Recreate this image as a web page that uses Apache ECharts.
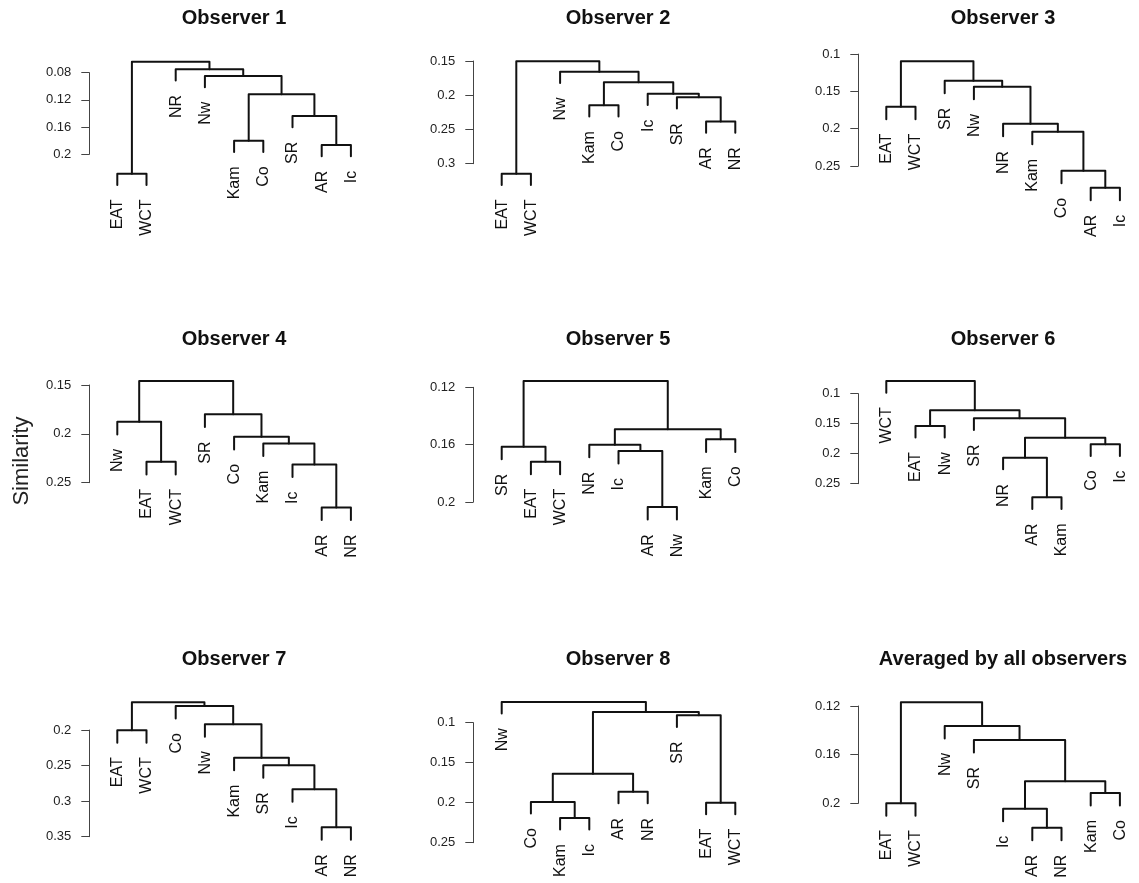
<!DOCTYPE html>
<html><head><meta charset="utf-8">
<script src="https://cdn.jsdelivr.net/npm/echarts@6/dist/echarts.min.js"></script>
<style>html,body{margin:0;padding:0;background:#fff}#c{width:1139px;height:883px}</style>
</head><body><div id="c"></div>
<script>
// ---------- DATA ----------
const titles = ['Observer 1','Observer 2','Observer 3','Observer 4','Observer 5','Observer 6','Observer 7','Observer 8','Averaged by all observers'];
const yName = 'Similarity';

// leaf order (left to right) and merges [childA, childB, height]; numeric child = index of earlier merge
const order1 = ['EAT','WCT','NR','Nw','Kam','Co','SR','AR','Ic'];
const merges1 = [['EAT','WCT',0.2285],['Kam','Co',0.18],['AR','Ic',0.1863],['SR',2,0.1437],[1,3,0.1118],['Nw',4,0.0849],['NR',5,0.075],[0,6,0.0638]];
const ticks1 = [0.08,0.12,0.16,0.2];

const order2 = ['EAT','WCT','Nw','Kam','Co','Ic','SR','AR','NR'];
const merges2 = [['EAT','WCT',0.3148],['Kam','Co',0.2148],['AR','NR',0.2382],['SR',2,0.2031],['Ic',3,0.1978],[1,4,0.1812],['Nw',5,0.1656],[0,6,0.1505]];
const ticks2 = [0.15,0.2,0.25,0.3];

const order3 = ['EAT','WCT','SR','Nw','NR','Kam','Co','AR','Ic'];
const merges3 = [['EAT','WCT',0.1705],['AR','Ic',0.279],['Co',1,0.2562],['Kam',2,0.204],['NR',3,0.1933],['Nw',4,0.1437],['SR',5,0.1356],[0,6,0.1096]];
const ticks3 = [0.1,0.15,0.2,0.25];

const order4 = ['Nw','EAT','WCT','SR','Co','Kam','Ic','AR','NR'];
const merges4 = [['EAT','WCT',0.2286],['Nw',0,0.1876],['AR','NR',0.2753],['Ic',2,0.2313],['Kam',3,0.2098],['Co',4,0.203],['SR',5,0.18],[1,6,0.1459]];
const ticks4 = [0.15,0.2,0.25];

const order5 = ['SR','EAT','WCT','NR','Ic','AR','Nw','Kam','Co'];
const merges5 = [['EAT','WCT',0.1719],['SR',0,0.1614],['AR','Nw',0.2035],['Ic',2,0.1644],['NR',3,0.16],['Kam','Co',0.1563],[4,5,0.1493],[1,6,0.1156]];
const ticks5 = [0.12,0.16,0.2];

const order6 = ['WCT','EAT','Nw','SR','NR','AR','Kam','Co','Ic'];
const merges6 = [['EAT','Nw',0.1538],['AR','Kam',0.2727],['NR',1,0.2067],['Co','Ic',0.1843],[2,3,0.1733],['SR',4,0.141],[0,5,0.1277],['WCT',6,0.0789]];
const ticks6 = [0.1,0.15,0.2,0.25];

const order7 = ['EAT','WCT','Co','Nw','Kam','SR','Ic','AR','NR'];
const merges7 = [['EAT','WCT',0.2004],['AR','NR',0.3367],['Ic',1,0.2833],['SR',2,0.2496],['Kam',3,0.2389],['Nw',4,0.192],['Co',5,0.1663],[0,6,0.1611]];
const ticks7 = [0.2,0.25,0.3,0.35];

const order8 = ['Nw','Co','Kam','Ic','AR','NR','SR','EAT','WCT'];
const merges8 = [['Kam','Ic',0.2191],['Co',0,0.1991],['AR','NR',0.1863],[1,2,0.1638],['EAT','WCT',0.2],['SR',4,0.0908],[3,5,0.0866],['Nw',6,0.0741]];
const ticks8 = [0.1,0.15,0.2,0.25];

const order9 = ['EAT','WCT','Nw','SR','Ic','AR','NR','Kam','Co'];
const merges9 = [['EAT','WCT',0.2],['AR','NR',0.22],['Ic',1,0.2044],['Kam','Co',0.1915],[2,3,0.1819],['SR',4,0.1479],['Nw',5,0.1364],[0,6,0.117]];
const ticks9 = [0.12,0.16,0.2];

const orders = [order1,order2,order3,order4,order5,order6,order7,order8,order9];
const mergesAll = [merges1,merges2,merges3,merges4,merges5,merges6,merges7,merges8,merges9];
const ticksAll = [ticks1,ticks2,ticks3,ticks4,ticks5,ticks6,ticks7,ticks8,ticks9];

// ---------- LAYOUT ----------
const FONT = "'Liberation Sans', Arial, sans-serif";
const cols = [{axisX:89.3, leaf1X:117.3, titleX:234},{axisX:473.3, leaf1X:501.7, titleX:618},{axisX:858.3, leaf1X:886.3, titleX:1003}];
const rowTitleY = [18.3, 339, 659];
const panelY = [[72.7,154.3],[61,163.7],[54.1,166],[385,482.7],[387.3,502],[393.7,483.7],[730,836.7],[722.7,842.7],[706,803.3]];
const SP = 29.2;

function layoutTree(order, merges) {
  const hs = merges.map(m => m[2]);
  const hang = 0.1 * (Math.max(...hs) - Math.min(...hs));
  const nodes = [], segs = [], leaves = [];
  const child = (ref, h) => {
    if (typeof ref === 'number') return nodes[ref];
    const x = order.indexOf(ref) + 1, y = h + hang;
    leaves.push([x, y, ref]);
    return {x, y};
  };
  merges.forEach(([a, b, h]) => {
    const A = child(a, h), B = child(b, h);
    nodes.push({x: (A.x + B.x) / 2, y: h});
    segs.push([A.x, B.x, A.y, B.y, h]);
  });
  return {segs, leaves};
}

const grid = [], xAxis = [], yAxis = [], series = [], graphic = [];
for (let i = 0; i < 9; i++) {
  const c = cols[i % 3], r = Math.floor(i / 3);
  const t = ticksAll[i];
  const xMin = 1 - (c.leaf1X - c.axisX) / SP, xMax = 10;
  grid.push({left: c.axisX, top: panelY[i][0], width: (xMax - xMin) * SP, height: panelY[i][1] - panelY[i][0], outerBoundsMode: 'none'});
  xAxis.push({type: 'value', gridIndex: i, min: xMin, max: xMax, show: false});
  yAxis.push({
    type: 'value', gridIndex: i, inverse: true,
    min: t[0], max: t[t.length - 1], interval: +(t[1] - t[0]).toFixed(4),
    axisLine: {show: true, lineStyle: {color: '#444', width: 1}},
    axisTick: {show: true, length: 8, lineStyle: {color: '#444'}},
    axisLabel: {fontSize: 13, color: '#222', margin: 18, fontFamily: FONT, formatter: v => String(+v.toFixed(4))},
    splitLine: {show: false}
  });
  const {segs, leaves} = layoutTree(orders[i], mergesAll[i]);
  series.push({
    type: 'custom', xAxisIndex: i, yAxisIndex: i, clip: false, silent: true, animation: false,
    data: segs,
    renderItem: (params, api) => {
      const p1 = api.coord([api.value(0), api.value(2)]);
      const q1 = api.coord([api.value(0), api.value(4)]);
      const q2 = api.coord([api.value(1), api.value(4)]);
      const p2 = api.coord([api.value(1), api.value(3)]);
      return {type: 'polyline', shape: {points: [p1, q1, q2, p2]},
        style: {stroke: '#111', lineWidth: 2, fill: null, lineJoin: 'round', lineCap: 'round'}};
    }
  });
  series.push({
    type: 'custom', xAxisIndex: i, yAxisIndex: i, clip: false, silent: true, animation: false,
    data: leaves.map(l => [l[0], l[1]]),
    renderItem: (params, api) => {
      const p = api.coord([api.value(0), api.value(1)]);
      return {type: 'text', x: p[0] + 0.5, y: p[1] + 14.5, rotation: Math.PI / 2,
        style: {text: leaves[params.dataIndex][2], align: 'right', verticalAlign: 'middle',
          fontSize: 16, fontFamily: FONT, fill: '#111'}};
    }
  });
  graphic.push({type: 'text', x: c.titleX, y: rowTitleY[r],
    style: {text: titles[i], align: 'center', verticalAlign: 'middle', fontSize: 20, fontWeight: 'bold', fontFamily: FONT, fill: '#111'}});
}
graphic.push({type: 'text', x: 22, y: 461, rotation: Math.PI / 2,
  style: {text: yName, align: 'center', verticalAlign: 'middle', fontSize: 22, fontFamily: FONT, fill: '#222'}});

const chart = echarts.init(document.getElementById('c'), null, {renderer: 'canvas'});
chart.setOption({animation: false, backgroundColor: '#fff', grid, xAxis, yAxis, series, graphic});
</script></body></html>
